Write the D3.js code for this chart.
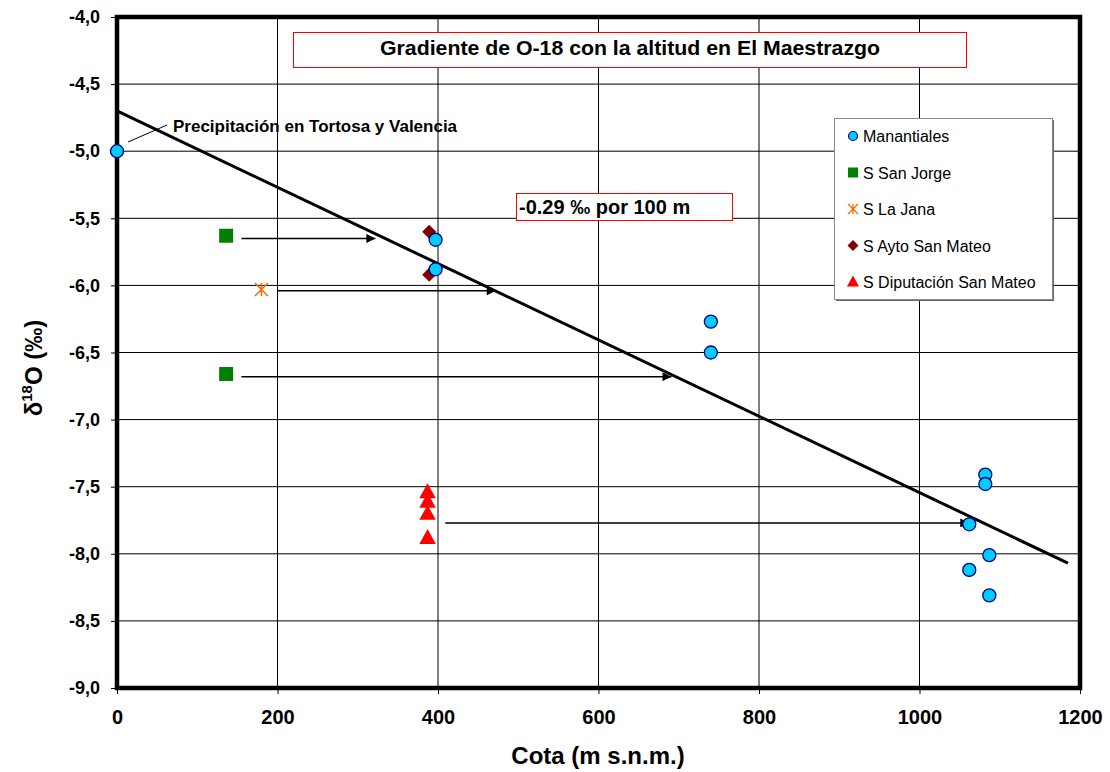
<!DOCTYPE html>
<html><head><meta charset="utf-8">
<script src="https://cdn.jsdelivr.net/npm/d3@7"></script>
<style>body{margin:0;background:#fff}svg{display:block;font-family:"Liberation Sans",Arial,sans-serif}</style>
</head><body><svg id="c" width="1110" height="772"></svg>
<script>
// ---- data ----
const manX = [0, 397, 397, 740, 740, 1082, 1082, 1062, 1087, 1062, 1087];
const manY = [-5.0, -5.66, -5.88, -6.27, -6.50, -7.41, -7.48, -7.78, -8.01, -8.12, -8.31];
const jorgeX = [136, 136];
const jorgeY = [-5.63, -6.66];
const janaX = [180];
const janaY = [-6.03];
const aytoX = [389, 389];
const aytoY = [-5.60, -5.92];
const dipX = [387, 387, 387, 387];
const dipY = [-7.54, -7.61, -7.70, -7.88];
const regX = [0, 1185];
const regY = [-4.70, -8.07];
const arrowX1 = [155, 200, 155, 409];
const arrowX2 = [322, 472, 691, 1062];
const arrowY = [-5.65, -6.04, -6.68, -7.77];
const xTicks = [0, 200, 400, 600, 800, 1000, 1200];
const yTicks = [-4.0, -4.5, -5.0, -5.5, -6.0, -6.5, -7.0, -7.5, -8.0, -8.5, -9.0];
const legendNames = ["Manantiales", "S San Jorge", "S La Jana", "S Ayto San Mateo", "S Diputación San Mateo"];
const titleText = "Gradiente de O-18 con la altitud en El Maestrazgo";
const slopeText = "-0.29 ‰ por 100 m";
const calloutText = "Precipitación en Tortosa y Valencia";

const svg = d3.select("#c");
const L = 117, R = 1080, T = 17, B = 688;
const x = d3.scaleLinear().domain([0, 1200]).range([L, R]);
const y = d3.scaleLinear().domain([-9, -4]).range([B, T]);

// grid
const g = svg.append("g");
g.selectAll(".vg").data(xTicks).join("line")
  .attr("x1", d => x(d)).attr("x2", d => x(d)).attr("y1", T).attr("y2", B)
  .attr("stroke", "#000").attr("stroke-width", 1);
g.selectAll(".hg").data(yTicks).join("line")
  .attr("x1", L).attr("x2", R).attr("y1", d => y(d)).attr("y2", d => y(d))
  .attr("stroke", "#000").attr("stroke-width", 1);

// axes
const fmt = d => d3.format(".1f")(d).replace(".", ",").replace("−", "-");
const ya = svg.append("g").attr("transform", `translate(${L},0)`)
  .call(d3.axisLeft(y).tickValues(yTicks).tickFormat(fmt).tickSize(6).tickPadding(11));
const xa = svg.append("g").attr("transform", `translate(0,${B})`)
  .call(d3.axisBottom(x).tickValues(xTicks).tickFormat(d3.format("d")).tickSize(6).tickPadding(16));
[ya, xa].forEach(a => {
  a.select(".domain").remove();
  a.selectAll("text").attr("font-weight", "bold").attr("fill", "#000")
    .attr("font-family", "'Liberation Sans',Arial,sans-serif");
  a.selectAll("line").attr("stroke", "#000");
});
ya.selectAll("text").attr("font-size", 18);
xa.selectAll("text").attr("font-size", 20);

// frame
svg.append("rect").attr("x", L).attr("y", T).attr("width", R - L).attr("height", B - T)
  .attr("fill", "none").attr("stroke", "#000").attr("stroke-width", 4.5);

// title box
svg.append("rect").attr("x", 293.5).attr("y", 32.5).attr("width", 673).attr("height", 35)
  .attr("fill", "#fff").attr("stroke", "#f00").attr("stroke-width", 1);
svg.append("text").attr("x", 630).attr("y", 55).attr("text-anchor", "middle")
  .attr("font-size", 20).attr("font-weight", "bold")
  .attr("textLength", 500).attr("lengthAdjust", "spacingAndGlyphs").text(titleText);

// slope box
svg.append("rect").attr("x", 516.5).attr("y", 193.5).attr("width", 216).attr("height", 27)
  .attr("fill", "#fff").attr("stroke", "#f00").attr("stroke-width", 1);
svg.append("text").attr("x", 519).attr("y", 214)
  .attr("font-size", 20).attr("font-weight", "bold").text(slopeText);

// regression line
svg.append("line").attr("x1", x(regX[0])).attr("y1", y(regY[0])).attr("x2", x(regX[1])).attr("y2", y(regY[1]))
  .attr("stroke", "#000").attr("stroke-width", 3);

// arrows
const defs = svg.append("defs");
defs.append("marker").attr("id", "ah").attr("viewBox", "0 0 10 10").attr("refX", 10).attr("refY", 5)
  .attr("markerWidth", 13).attr("markerHeight", 9).attr("markerUnits", "userSpaceOnUse").attr("orient", "auto")
  .append("path").attr("d", "M0,0L10,5L0,10Z").attr("fill", "#000");
svg.selectAll(".arr").data(arrowY).join("line")
  .attr("x1", (d, i) => x(arrowX1[i])).attr("x2", (d, i) => x(arrowX2[i]))
  .attr("y1", d => y(d)).attr("y2", d => y(d))
  .attr("stroke", "#000").attr("stroke-width", 1.5).attr("marker-end", "url(#ah)");

// callout
svg.append("line").attr("x1", 128).attr("y1", 142).attr("x2", 167).attr("y2", 125)
  .attr("stroke", "#000").attr("stroke-width", 1);
svg.append("text").attr("x", 173).attr("y", 132).attr("font-size", 17).attr("font-weight", "bold").text(calloutText);

// markers
function star(s) { const h = s / 2; return `M${-h},${-h}L${h},${h}M${-h},${h}L${h},${-h}M0,${-h}L0,${h}`; }
const sym = {
  square: s => d3.symbol(d3.symbolSquare, s * s)(),
  diamond: s => `M0,${-s / 2}L${s / 2},0L0,${s / 2}L${-s / 2},0Z`,
  tri: s => `M0,${-s * 0.58}L${s * 0.55},${s * 0.42}L${-s * 0.55},${s * 0.42}Z`
};
svg.selectAll(".dia").data(aytoX).join("path")
  .attr("transform", (d, i) => `translate(${x(d)},${y(aytoY[i])})`).attr("d", sym.diamond(14)).attr("fill", "#800000");
svg.selectAll(".sq").data(jorgeX).join("path")
  .attr("transform", (d, i) => `translate(${x(d)},${y(jorgeY[i])})`).attr("d", sym.square(14)).attr("fill", "#008000");
svg.selectAll(".st").data(janaX).join("path")
  .attr("transform", (d, i) => `translate(${x(d)},${y(janaY[i])})`).attr("d", star(13))
  .attr("stroke", "#FF6600").attr("stroke-width", 1.5).attr("fill", "none");
svg.selectAll(".tr").data(dipX).join("path")
  .attr("transform", (d, i) => `translate(${x(d)},${y(dipY[i])})`).attr("d", sym.tri(15)).attr("fill", "#FF0000");
svg.selectAll(".ci").data(manX).join("circle")
  .attr("cx", d => x(d)).attr("cy", (d, i) => y(manY[i])).attr("r", 6.5)
  .attr("fill", "#00CCFF").attr("stroke", "#000080").attr("stroke-width", 1.3);

// legend
const lg = svg.append("g");
lg.append("rect").attr("x", 836).attr("y", 120).attr("width", 218).attr("height", 181).attr("fill", "#666");
lg.append("rect").attr("x", 834.5).attr("y", 118.5).attr("width", 218).attr("height", 181)
  .attr("fill", "#fff").attr("stroke", "#888").attr("stroke-width", 1);
const rowY = [136, 172.5, 209, 245.5, 282];
legendNames.forEach((n, i) => {
  const cx = 853, cy = rowY[i];
  if (i === 0) lg.append("circle").attr("cx", cx).attr("cy", cy).attr("r", 4.5).attr("fill", "#00CCFF").attr("stroke", "#000080").attr("stroke-width", 1.2);
  if (i === 1) lg.append("path").attr("transform", `translate(${cx},${cy})`).attr("d", sym.square(10)).attr("fill", "#008000");
  if (i === 2) lg.append("path").attr("transform", `translate(${cx},${cy})`).attr("d", star(10)).attr("stroke", "#FF6600").attr("stroke-width", 1.3).attr("fill", "none");
  if (i === 3) lg.append("path").attr("transform", `translate(${cx},${cy})`).attr("d", sym.diamond(11)).attr("fill", "#800000");
  if (i === 4) lg.append("path").attr("transform", `translate(${cx},${cy})`).attr("d", sym.tri(11)).attr("fill", "#FF0000");
  lg.append("text").attr("x", 863).attr("y", cy + 6).attr("font-size", 16).text(n);
});

// axis titles
svg.append("text").attr("x", 598).attr("y", 764).attr("text-anchor", "middle")
  .attr("font-size", 24).attr("font-weight", "bold").text("Cota (m s.n.m.)");
const yt = svg.append("text").attr("transform", "translate(42,368) rotate(-90)").attr("text-anchor", "middle")
  .attr("font-size", 24).attr("font-weight", "bold");
yt.append("tspan").text("δ");
yt.append("tspan").attr("font-size", 15).attr("dy", -10).text("18");
yt.append("tspan").attr("dy", 10).text("O (‰)");
</script></body></html>
